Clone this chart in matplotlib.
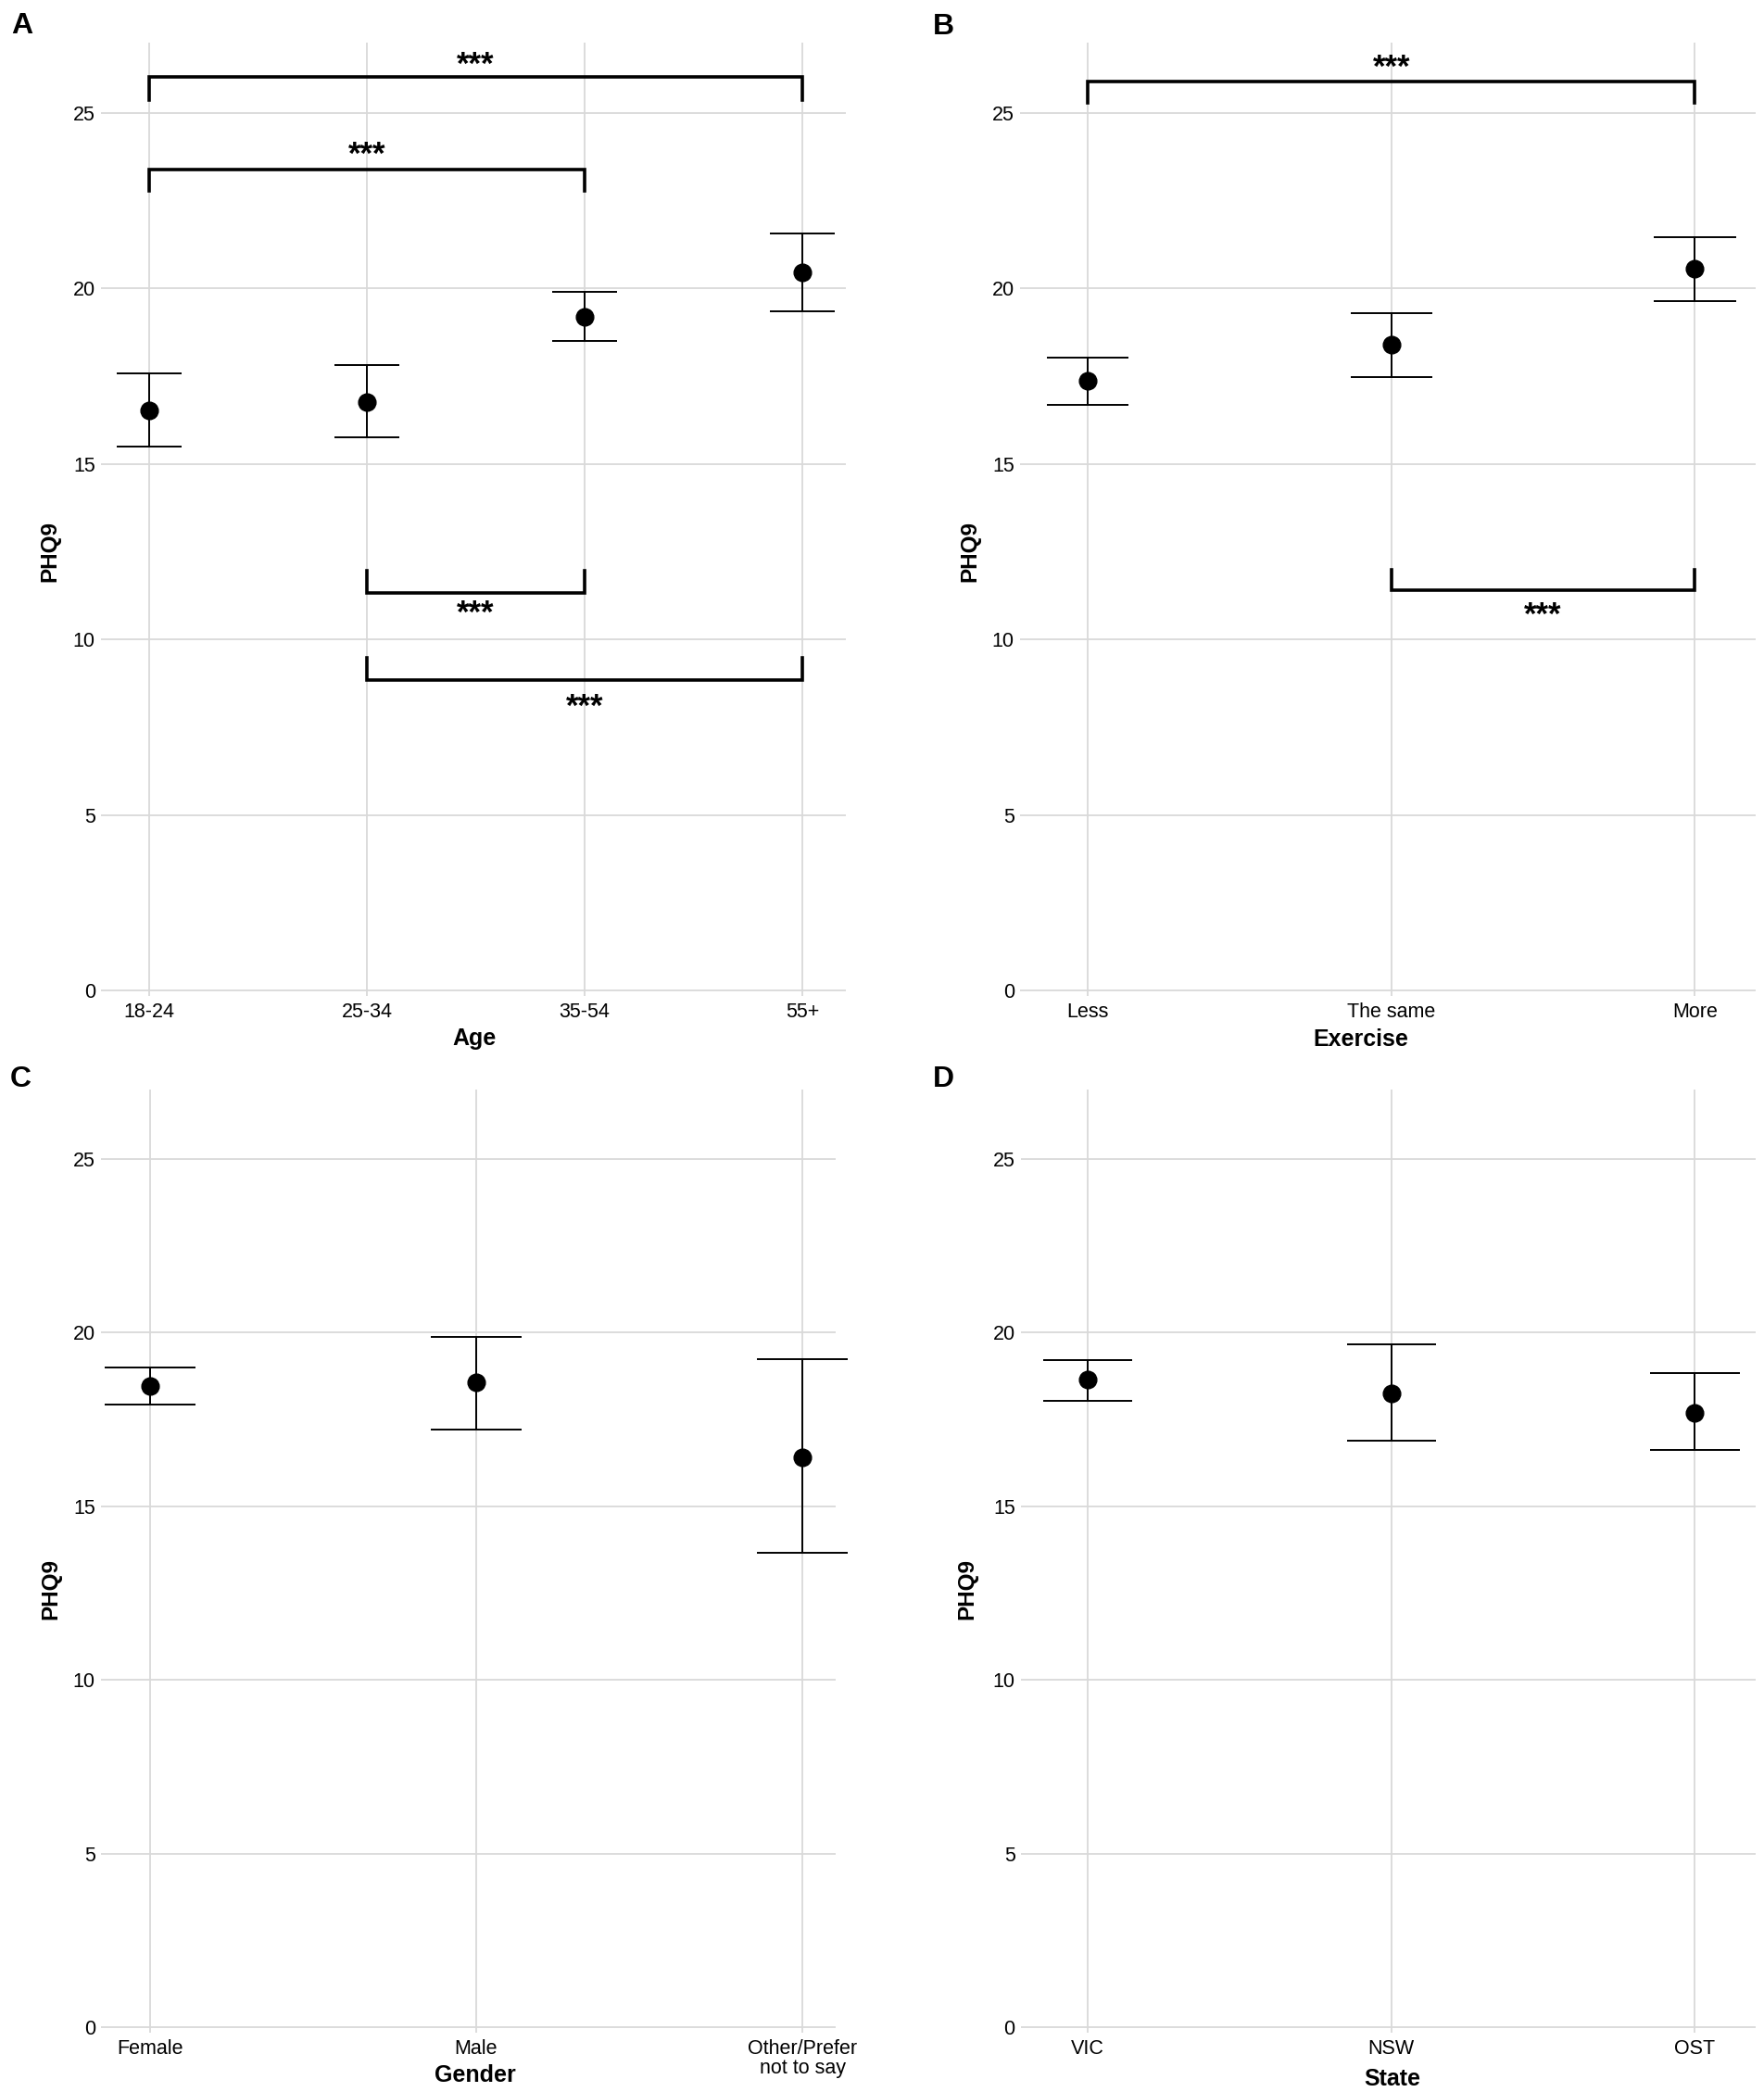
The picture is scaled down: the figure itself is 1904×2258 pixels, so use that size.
import numpy as np
import matplotlib
matplotlib.use('Agg')
import matplotlib.pyplot as plt

plt.rcParams['font.family'] = ['Liberation Sans', 'DejaVu Sans']

# PHQ9 means with 95% CI
age_labels = ['18-24', '25-34', '35-54', '55+']
age_mean = [16.52, 16.77, 19.20, 20.46]
age_low = [15.48, 15.76, 18.51, 19.35]
age_high = [17.57, 17.82, 19.89, 21.57]

exercise_labels = ['Less', 'The same', 'More']
exercise_mean = [17.37, 18.40, 20.55]
exercise_low = [16.68, 17.46, 19.63]
exercise_high = [18.03, 19.30, 21.46]

gender_labels = ['Female', 'Male', 'Other/Prefer\nnot to say']
gender_mean = [18.46, 18.58, 16.40]
gender_low = [17.93, 17.20, 13.65]
gender_high = [19.00, 19.87, 19.23]

state_labels = ['VIC', 'NSW', 'OST']
state_mean = [18.65, 18.24, 17.70]
state_low = [18.04, 16.88, 16.63]
state_high = [19.22, 19.67, 18.83]

# significance brackets: group a, group b, bar y, tip y, star y
age_sig = [(0, 3, 26.02, 25.37, 26.52),
           (0, 2, 23.39, 22.77, 23.96),
           (1, 2, 11.33, 11.96, 10.89),
           (1, 3, 8.84, 9.48, 8.24)]
exercise_sig = [(0, 2, 25.88, 25.29, 26.46),
                (1, 2, 11.39, 11.98, 10.85)]

W, H = 1904, 2258
fig = plt.figure(figsize=(W / 100, H / 100), dpi=100)

STAR_FS = 25


def panel(px, letter, letter_xy, labels, mean, low, high, xlabel, xlim, cap,
          xlab_pos, ylab_pos, sig=()):
    x0, y0, x1, y1 = px
    ax = fig.add_axes([x0 / W, 1 - y1 / H, (x1 - x0) / W, (y1 - y0) / H])
    x = np.arange(len(labels))
    mean = np.array(mean)
    low = np.array(low)
    high = np.array(high)

    ax.vlines(x, low, high, color='black', lw=1.4, zorder=3)
    ax.hlines(low, x - cap, x + cap, color='black', lw=1.4, zorder=3, clip_on=False)
    ax.hlines(high, x - cap, x + cap, color='black', lw=1.4, zorder=3, clip_on=False)
    ax.plot(x, mean, 'o', color='black', ms=13.5, zorder=4, clip_on=False)

    for a, b, bar, tip, star in sig:
        ax.plot([a, a, b, b], [tip, bar, bar, tip], color='black', lw=2.6,
                solid_joinstyle='miter', clip_on=False, zorder=3)
        ax.annotate('***', xy=((a + b) / 2, star), xytext=(0, -0.46 * STAR_FS),
                    textcoords='offset points', ha='center', va='baseline',
                    fontsize=STAR_FS, fontweight='bold', annotation_clip=False)

    ax.set_xlim(xlim)
    ax.set_ylim(-0.16, 27)
    ax.set_xticks(x)
    ax.set_xticklabels(labels, linespacing=1.0)
    ax.set_yticks([0, 5, 10, 15, 20, 25])
    ax.tick_params(length=0, labelsize=15.5, colors='black')
    ax.tick_params(axis='x', pad=5)
    ax.tick_params(axis='y', pad=4.5)
    for s in ax.spines.values():
        s.set_visible(False)
    ax.grid(True, color='#d9d9d9', lw=1.3)
    ax.set_axisbelow(True)

    ax.set_xlabel(xlabel, fontsize=18, fontweight='bold')
    ax.xaxis.set_label_coords(*xlab_pos)
    ax.xaxis.label.set_va('baseline')
    ax.set_ylabel('PHQ9', fontsize=17.5, fontweight='bold')
    ax.yaxis.set_label_coords(*ylab_pos)
    ax.yaxis.label.set_va('center')

    fig.text(letter_xy[0] / W, 1 - letter_xy[1] / H, letter, fontsize=23,
             fontweight='bold', ha='center', va='baseline')
    return ax


panel((109, 46, 913, 1075), 'A', (24, 36), age_labels, age_mean, age_low, age_high,
      'Age', (-0.221, 3.2), 0.149, (0.501, -0.0515), (-0.068, 0.466), age_sig)
panel((1101, 46, 1895, 1075), 'B', (1018, 37), exercise_labels, exercise_mean,
      exercise_low, exercise_high, 'Exercise', (-0.223, 2.2), 0.135,
      (0.463, -0.0525), (-0.068, 0.466), exercise_sig)
panel((109, 1176, 902, 2194), 'C', (22, 1173), gender_labels, gender_mean,
      gender_low, gender_high, 'Gender', (-0.15, 2.102), 0.139,
      (0.509, -0.052), (-0.068, 0.471))
panel((1102, 1176, 1895, 2194), 'D', (1018, 1173), state_labels, state_mean,
      state_low, state_high, 'State', (-0.22, 2.2), 0.147,
      (0.506, -0.056), (-0.073, 0.471))

fig.savefig('out.png', dpi=100, facecolor='white')
